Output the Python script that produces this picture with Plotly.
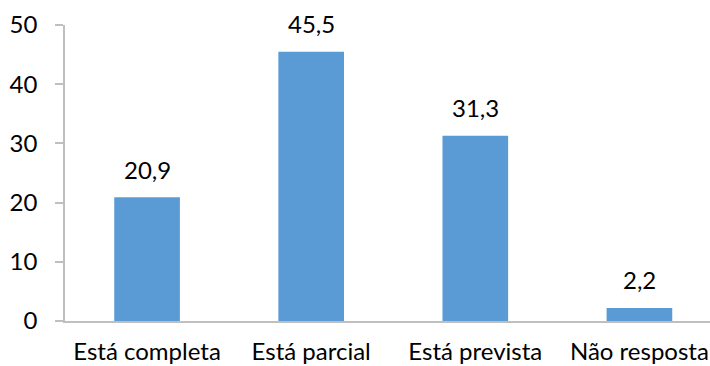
import plotly.graph_objects as go

# Survey results (percent) by category
categories = ["Está completa", "Está parcial", "Está prevista", "Não resposta"]
values = [20.9, 45.5, 31.3, 2.2]
y_ticks = [0, 10, 20, 30, 40, 50]

BAR_COLOR = "#5B9BD5"
AXIS_COLOR = "#BFBFBF"
FONT = dict(family="Lato, Carlito, sans-serif", size=24, color="#000000")

def fmt(v):
    return f"{v:.1f}".replace(".", ",")

fig = go.Figure(
    go.Bar(
        x=categories,
        y=values,
        marker=dict(color=BAR_COLOR, line=dict(width=0)),
        hoverinfo="skip",
    )
)

# Value labels above each bar
for cat, v in zip(categories, values):
    fig.add_annotation(
        x=cat, y=v, text=fmt(v), showarrow=False,
        yanchor="middle", yshift=28, font=FONT,
    )

fig.update_layout(
    width=710,
    height=366,
    margin=dict(l=65, r=0, t=25, b=45),
    paper_bgcolor="white",
    plot_bgcolor="white",
    font=FONT,
    bargap=0.6,
    showlegend=False,
)

fig.update_xaxes(
    type="category",
    range=[-0.5, 3.43],
    showline=True, linecolor=AXIS_COLOR, linewidth=1.5,
    ticks="", showgrid=False, zeroline=False,
    ticklabelstandoff=8,
    tickfont=FONT,
)

fig.update_yaxes(
    range=[0, 50],
    tickvals=y_ticks,
    showline=True, linecolor=AXIS_COLOR, linewidth=1.5,
    ticks="outside", ticklen=8, tickcolor=AXIS_COLOR, tickwidth=1.5,
    showgrid=False, zeroline=False,
    ticklabelstandoff=13,
    tickfont=FONT,
)

fig.write_html("out.html")
